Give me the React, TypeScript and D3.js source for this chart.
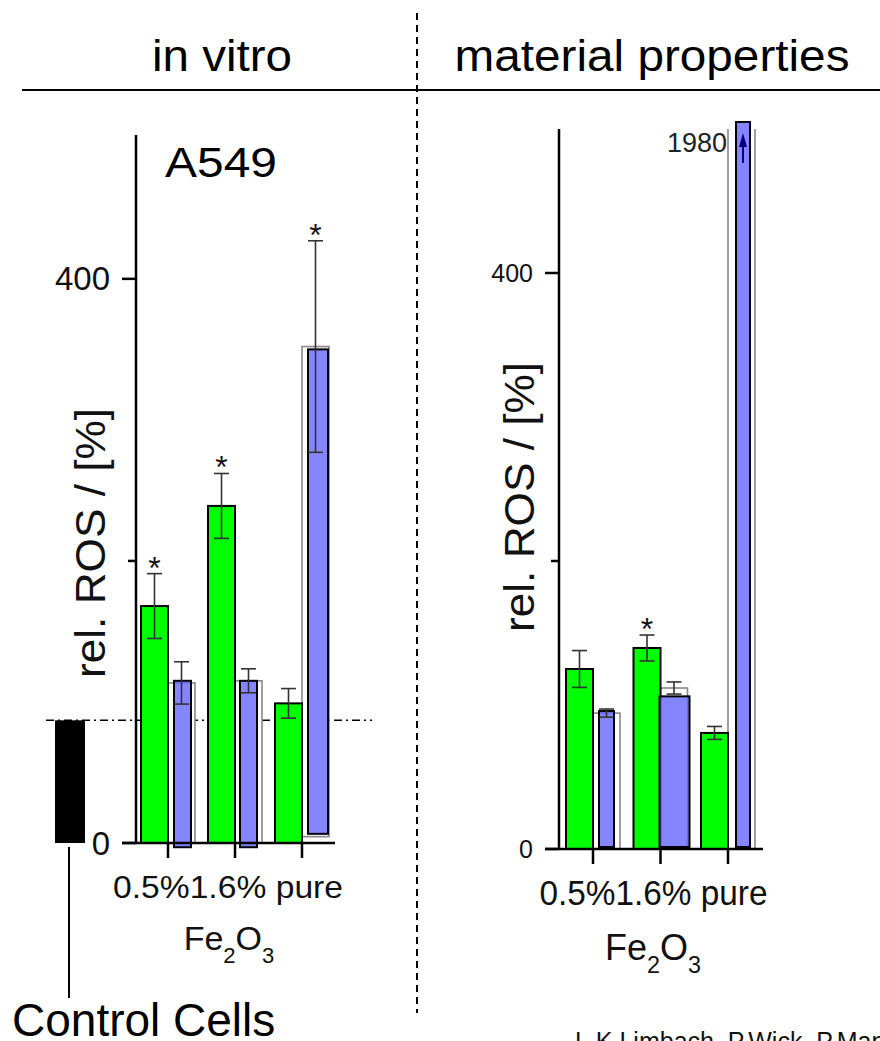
import React from 'react';
import * as d3 from 'd3';

// x categories (Fe2O3 content)
const categories = ['0.5%', '1.6%', 'pure'];

// in vitro, A549 cells
const vitroGreen = [168, 239, 99];
const vitroGreenErr = [23, 23, 10.5];
const vitroOpen = [113.5, 115, 352];
const vitroOpenErr = [15, 8.5, 75];
const vitroOpenBase = [0, 0, 4.5];
const vitroBlue = [115, 115, 350];
const vitroBlueBase = [-3, -3, 6.5];
const vitroStars = ['green', 'green', 'open'];
const controlValue = 87;

// material properties
const matGreen = [125, 139.6, 80.6];
const matGreenErr = [12.8, 9, 4.5];
const matOpen = [94.4, 111.8, 1980];
const matOpenErr = [2.8, 4.2, 0];
const matOpenBase = [0, 0, 0];
const matBlue = [95.8, 106, 1980];
const matBlueBase = [1.4, 1.4, 1.4];
const matStars = ['', 'green', ''];

// axis ticks
const yTicks = [0, 200, 400];
const yTickLabels = ['0', '', '400'];

const FONT = '"Liberation Sans", Arial, Helvetica, sans-serif';

type Layout = {
  axisX: number;
  zeroY: number;
  topY: number;
  yMax: number;
  tick0: number;
  tick1: number;
  xEnd: number;
  tickFont: number;
  catFont: number;
  catLen: number;
  catY: number;
  feFont: number;
  feY: number;
  feX: number;
  labelX: number;
  labelY: number;
  insets: number[][];
};

const vitroLayout: Layout = {
  axisX: 136, zeroY: 843, topY: 135, yMax: 502,
  tick0: 168, tick1: 302, xEnd: 335,
  tickFont: 33, catFont: 32, catLen: 230, catY: 898,
  feFont: 34, feY: 950, feX: 229, labelX: 105, labelY: 543,
  insets: [[6, 4], [5, 5], [6, 1]],
};

const matLayout: Layout = {
  axisX: 559, zeroY: 849, topY: 129, yMax: 500,
  tick0: 593, tick1: 728, xEnd: 763,
  tickFont: 25, catFont: 35, catLen: 228, catY: 905,
  feFont: 36, feY: 960, feX: 653, labelX: 534, labelY: 497,
  insets: [[6, 6], [-1, -2], [8, 5]],
};

type PanelProps = {
  L: Layout;
  green: number[];
  greenErr: number[];
  open: number[];
  openErr: number[];
  openBase: number[];
  blue: number[];
  blueBase: number[];
  stars: string[];
};

function ErrBar({ x, y1, y2 }: { x: number; y1: number; y2: number }) {
  const cap = 7.5;
  return (
    <g stroke="#333" strokeWidth={1.6}>
      <line x1={x} x2={x} y1={y1} y2={y2} />
      <line x1={x - cap} x2={x + cap} y1={y1} y2={y1} />
      <line x1={x - cap} x2={x + cap} y1={y2} y2={y2} />
    </g>
  );
}

function Panel({ L, green, greenErr, open, openErr, openBase, blue, blueBase, stars }: PanelProps) {
  const y = d3.scaleLinear().domain([0, L.yMax]).range([L.zeroY, L.topY]);
  const x = d3.scalePoint<string>().domain(categories).range([L.tick0, L.tick1]);
  const bw = 27;
  const capTop = (v: number, over: number) => (v > L.yMax ? y(L.yMax) - over : y(v));
  const mid = x(categories[1]) as number;

  return (
    <g>
      {/* open (white) bars */}
      {categories.map((c, i) => {
        const x0 = x(c) as number;
        const top = capTop(open[i], 0);
        const bot = y(openBase[i]);
        if (open[i] > L.yMax) {
          return (
            <g key={'o' + i} stroke="#888" strokeWidth={1.6} fill="none">
              <rect x={x0} y={top} width={bw} height={bot - top} fill="#fff" stroke="none" />
              <line x1={x0} x2={x0} y1={top} y2={bot} />
              <line x1={x0 + bw} x2={x0 + bw} y1={top} y2={bot} />
            </g>
          );
        }
        return (
          <rect key={'o' + i} x={x0} y={top} width={bw} height={bot - top}
            fill="#fff" stroke="#888" strokeWidth={1.6} />
        );
      })}
      {/* green bars */}
      {categories.map((c, i) => {
        const x0 = (x(c) as number) - bw;
        return (
          <rect key={'g' + i} x={x0} y={y(green[i])} width={bw} height={y(0) - y(green[i])}
            fill="#00ff00" stroke="#000" strokeWidth={2} />
        );
      })}
      {/* blue bars */}
      {categories.map((c, i) => {
        const [l, r] = L.insets[i];
        const x0 = (x(c) as number) + l;
        const top = capTop(blue[i], 7);
        const bot = y(blueBase[i]);
        return (
          <rect key={'b' + i} x={x0} y={top} width={bw - l - r} height={bot - top}
            fill="#6666ff" fillOpacity={0.8} stroke="#000" strokeWidth={2} />
        );
      })}
      {/* arrow for off-scale bar */}
      {categories.map((c, i) => {
        if (blue[i] <= L.yMax) return null;
        const [l, r] = L.insets[i];
        const cx = (x(c) as number) + l + (bw - l - r) / 2;
        const top = capTop(blue[i], 7);
        return (
          <g key={'a' + i}>
            <line x1={cx} x2={cx} y1={top + 41} y2={top + 20} stroke="#000080" strokeWidth={2} />
            <path d={`M${cx},${top + 11}L${cx - 4},${top + 25}L${cx + 4},${top + 25}Z`} fill="#000080" />
            <text x={(x(c) as number) - 1} y={top + 30} fontSize={27} textAnchor="end" fill="#222">
              {blue[i]}
            </text>
          </g>
        );
      })}
      {/* error bars */}
      {categories.map((c, i) => (
        <ErrBar key={'ge' + i} x={(x(c) as number) - bw / 2}
          y1={y(green[i] + greenErr[i])} y2={y(green[i] - greenErr[i])} />
      ))}
      {categories.map((c, i) =>
        openErr[i] > 0 && open[i] <= L.yMax ? (
          <ErrBar key={'oe' + i} x={(x(c) as number) + bw / 2}
            y1={y(open[i] + openErr[i])} y2={y(open[i] - openErr[i])} />
        ) : null
      )}
      {/* significance stars */}
      {categories.map((c, i) => {
        if (!stars[i]) return null;
        const isGreen = stars[i] === 'green';
        const cx = (x(c) as number) + (isGreen ? -bw / 2 : bw / 2);
        const v = isGreen ? green[i] + greenErr[i] : open[i] + openErr[i];
        return (
          <text key={'s' + i} x={cx} y={y(v) + 5} fontSize={32} textAnchor="middle" fill="#111">*</text>
        );
      })}
      {/* axes */}
      <line x1={L.axisX} x2={L.axisX} y1={L.topY} y2={L.zeroY} stroke="#000" strokeWidth={2.5} />
      <line x1={L.axisX - 14} x2={L.xEnd} y1={L.zeroY} y2={L.zeroY} stroke="#000" strokeWidth={2.5} />
      {yTicks.map((t, i) => (
        <g key={'yt' + i}>
          <line x1={L.axisX - (yTickLabels[i] ? 14 : 8)} x2={L.axisX} y1={y(t)} y2={y(t)}
            stroke="#000" strokeWidth={2.5} />
          <text x={L.axisX - 26} y={y(t)} dy="0.35em" fontSize={L.tickFont} textAnchor="end" fill="#111">
            {yTickLabels[i]}
          </text>
        </g>
      ))}
      {categories.map((c, i) => (
        <line key={'xt' + i} x1={x(c) as number} x2={x(c) as number} y1={L.zeroY} y2={L.zeroY + 15}
          stroke="#000" strokeWidth={2.5} />
      ))}
      <text x={mid - 7} y={L.catY} fontSize={L.catFont} textAnchor="middle" fill="#111"
        textLength={L.catLen} lengthAdjust="spacingAndGlyphs">
        {`${categories[0]}${categories[1]} ${categories[2]}`}
      </text>
      <text x={L.feX} y={L.feY} fontSize={L.feFont} textAnchor="middle" fill="#111">
        Fe<tspan fontSize={L.feFont * 0.65} dy={13}>2</tspan>
        <tspan dy={-13}>O</tspan>
        <tspan fontSize={L.feFont * 0.65} dy={13}>3</tspan>
      </text>
      <text transform={`translate(${L.labelX},${L.labelY}) rotate(-90)`} fontSize={42}
        textAnchor="middle" fill="#111" textLength={270} lengthAdjust="spacingAndGlyphs">
        rel. ROS / [%]
      </text>
    </g>
  );
}

export default function App() {
  const W = 880;
  const H = 1041;
  const yL = d3.scaleLinear().domain([0, vitroLayout.yMax]).range([vitroLayout.zeroY, vitroLayout.topY]);
  const ctrlY = yL(controlValue);

  return (
    <svg width={W} height={H} fontFamily={FONT}
      style={{ position: 'fixed', left: 0, top: 0, display: 'block', background: '#fff' }}>
      <rect width={W} height={H} fill="#fff" />

      {/* headers */}
      <text x={222} y={71} fontSize={45} textAnchor="middle" fill="#000"
        textLength={140} lengthAdjust="spacingAndGlyphs">in vitro</text>
      <text x={652} y={71} fontSize={45} textAnchor="middle" fill="#000"
        textLength={395} lengthAdjust="spacingAndGlyphs">material properties</text>
      <line x1={22} x2={W} y1={90} y2={90} stroke="#000" strokeWidth={2} />
      <line x1={417} x2={417} y1={13} y2={1013} stroke="#000" strokeWidth={2} strokeDasharray="7,5" />

      {/* control reference */}
      <line x1={46} x2={372} y1={ctrlY} y2={ctrlY} stroke="#000" strokeWidth={1.5}
        strokeDasharray="8,4,2,4" />
      <rect x={55} y={ctrlY} width={30} height={yL(0) - ctrlY} fill="#000" />
      <line x1={69} x2={69} y1={yL(0) + 4} y2={998} stroke="#000" strokeWidth={2} />
      <text x={12} y={1036} fontSize={46} fill="#000">Control Cells</text>

      <text x={165} y={177} fontSize={42} fill="#000" textLength={112} lengthAdjust="spacingAndGlyphs">A549</text>

      <Panel L={vitroLayout} green={vitroGreen} greenErr={vitroGreenErr} open={vitroOpen}
        openErr={vitroOpenErr} openBase={vitroOpenBase} blue={vitroBlue} blueBase={vitroBlueBase}
        stars={vitroStars} />
      <Panel L={matLayout} green={matGreen} greenErr={matGreenErr} open={matOpen}
        openErr={matOpenErr} openBase={matOpenBase} blue={matBlue} blueBase={matBlueBase}
        stars={matStars} />

      <text x={575} y={1050} fontSize={25} fill="#111">
        L.K Limbach, P.Wick, P.Manser, R.N. Grass, A. Bruinink, W.J. Stark
      </text>
    </svg>
  );
}
